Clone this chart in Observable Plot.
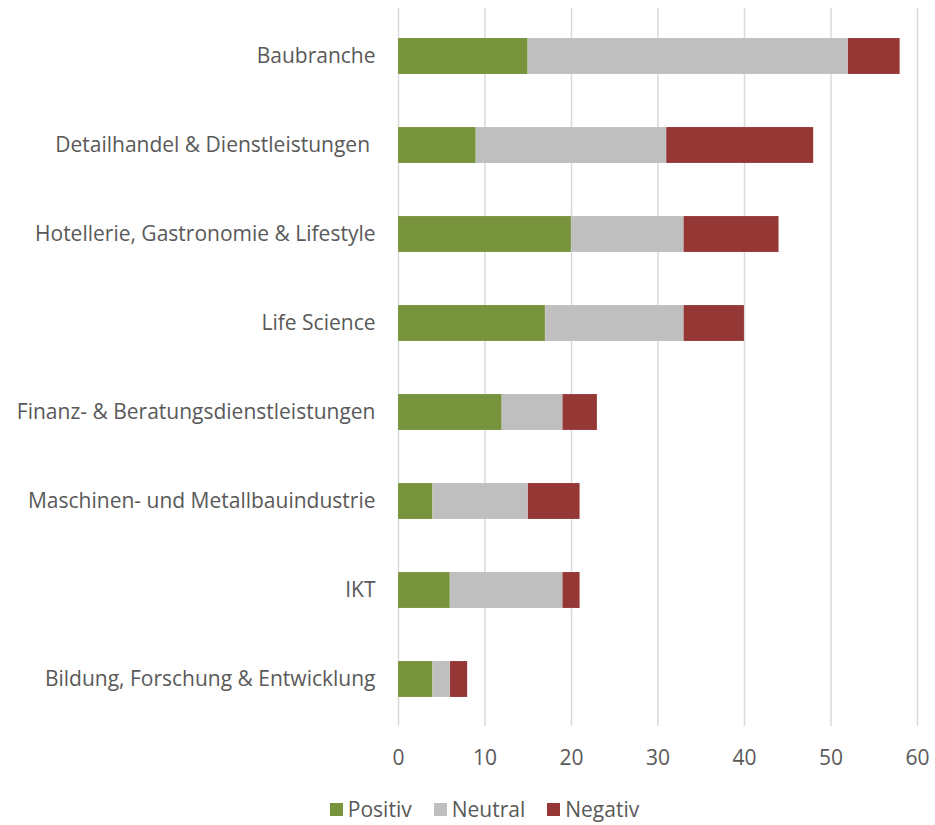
<!DOCTYPE html>
<html>
<head>
<meta charset="utf-8">
<script src="https://cdn.jsdelivr.net/npm/d3@7"></script>
<script src="https://cdn.jsdelivr.net/npm/@observablehq/plot@0.6"></script>
<style>
  body { margin: 0; background: #fff; font-family: "Open Sans", sans-serif; }
  #chart { width: 935px; }
  .legend { display: flex; justify-content: center; gap: 22px; padding-left: 34px; margin-top: 20px; font-size: 21px; line-height: 29px; color: #595959; }
  .legend span { display: inline-flex; align-items: center; }
  .legend i { display: inline-block; width: 13px; height: 13px; margin-right: 5px; }
</style>
</head>
<body>
<div id="chart"></div>
<script>
const categories = [
  "Baubranche",
  "Detailhandel & Dienstleistungen\u00a0",
  "Hotellerie, Gastronomie & Lifestyle",
  "Life Science",
  "Finanz- & Beratungsdienstleistungen",
  "Maschinen- und Metallbauindustrie",
  "IKT",
  "Bildung, Forschung & Entwicklung"
];
const series = ["Positiv", "Neutral", "Negativ"];
const positiv = [15, 9, 20, 17, 12, 4, 6, 4];
const neutral = [37, 22, 13, 16, 7, 11, 13, 2];
const negativ = [6, 17, 11, 7, 4, 6, 2, 2];
const colors = ["#77933C", "#BFBFBF", "#953735"];
const xTicks = [0, 10, 20, 30, 40, 50, 60];

const values = [positiv, neutral, negativ];
const rows = [];
categories.forEach((c, i) => {
  series.forEach((s, j) => rows.push({category: c, series: s, value: values[j][i]}));
});

const plot = Plot.plot({
  width: 935,
  height: 775,
  marginLeft: 398,
  marginRight: 18,
  marginTop: 8,
  marginBottom: 49,
  style: { fontFamily: "'Open Sans', sans-serif", fontSize: "21px", color: "#595959", background: "#fff" },
  x: { domain: [0, 60], ticks: xTicks, grid: false, label: null },
  y: { domain: categories, paddingInner: 0.6, paddingOuter: 0.3, label: null },
  color: { domain: series, range: colors },
  marks: [
    Plot.gridX(xTicks, { stroke: "#D9D9D9", strokeOpacity: 1, strokeWidth: 1.5 }),
    Plot.barX(rows, Plot.stackX({ x: "value", y: "category", fill: "series", order: series, stroke: "#fff", strokeOpacity: 0.25, strokeWidth: 0.5 })),
    Plot.axisX({ ticks: xTicks, tickSize: 0, tickPadding: 24, fontSize: 21, fill: "#595959", label: null }),
    Plot.axisY({ tickSize: 0, tickPadding: 23, fontSize: 21, fill: "#595959", label: null })
  ]
});
document.getElementById("chart").appendChild(plot);

const legend = document.createElement("div");
legend.className = "legend";
series.forEach((s, j) => {
  const item = document.createElement("span");
  const sw = document.createElement("i");
  sw.style.background = colors[j];
  item.appendChild(sw);
  item.appendChild(document.createTextNode(s));
  legend.appendChild(item);
});
document.getElementById("chart").appendChild(legend);
</script>
</body>
</html>
